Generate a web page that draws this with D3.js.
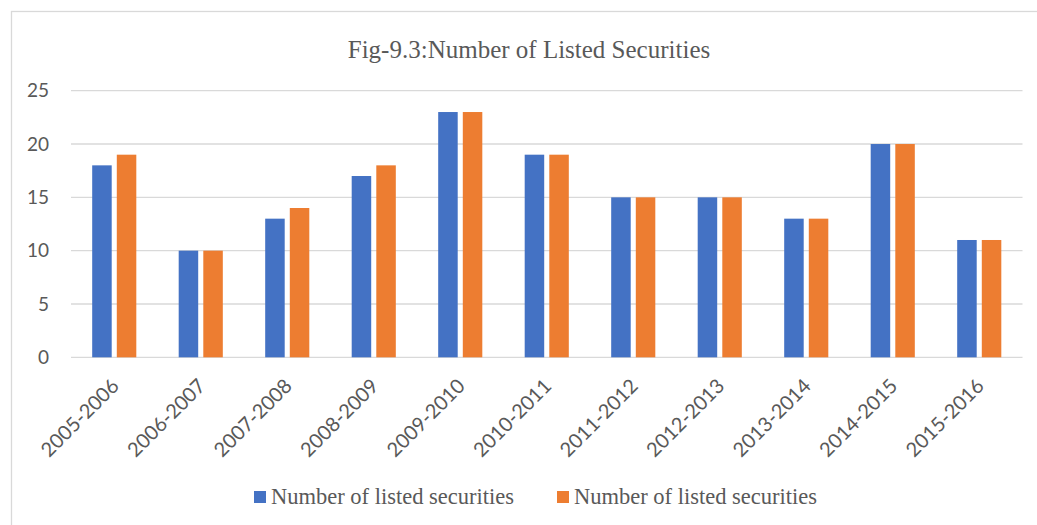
<!DOCTYPE html>
<html>
<head>
<meta charset="utf-8">
<script src="https://cdn.jsdelivr.net/npm/d3@7"></script>
<style>
html,body{margin:0;padding:0;background:#fff;overflow:hidden;}
svg{display:block;}
</style>
</head>
<body>
<svg id="chart" width="1037" height="525"></svg>
<script>
const categories = ["2005-2006","2006-2007","2007-2008","2008-2009","2009-2010","2010-2011","2011-2012","2012-2013","2013-2014","2014-2015","2015-2016"];
const series1 = [18,10,13,17,23,19,15,15,13,20,11];
const series2 = [19,10,14,18,23,19,15,15,13,20,11];
const seriesNames = ["Number of listed securities","Number of listed securities"];
const seriesColors = ["#4472C4","#ED7D31"];
const yTicks = [0,5,10,15,20,25];
const title = "Fig-9.3:Number of Listed Securities";

const svg = d3.select("#chart");
const plot = {left:71, right:1022.5, top:90.7, bottom:357.3};

// frame
svg.append("rect").attr("x",11.5).attr("y",11.5).attr("width",1040).attr("height",540)
  .attr("fill","#fff").attr("stroke","#d9d9d9").attr("stroke-width",1.3);

const x0 = d3.scaleBand().domain(categories).range([plot.left, plot.right]).paddingInner(0.49).paddingOuter(0.245);
const x1 = d3.scaleBand().domain([0,1]).range([0, x0.bandwidth()]).paddingInner(0.207);
const y = d3.scaleLinear().domain([0,25]).range([plot.bottom, plot.top]);

// gridlines
svg.append("g").selectAll("line").data(yTicks).join("line")
  .attr("x1",plot.left).attr("x2",plot.right)
  .attr("y1",d=>y(d)).attr("y2",d=>y(d))
  .attr("stroke","#d9d9d9").attr("stroke-width",1.3);

// y labels
svg.append("g").selectAll("text").data(yTicks).join("text")
  .attr("x",49).attr("y",d=>y(d)).attr("dy","0.35em")
  .attr("text-anchor","end")
  .attr("font-family","Lato, 'Liberation Sans', sans-serif").attr("font-size",19)
  .attr("fill","#595959").text(d=>d);

// bars
const data = [series1, series2];
const gCat = svg.append("g").selectAll("g").data(categories).join("g")
  .attr("transform",d=>`translate(${x0(d)},0)`);
gCat.selectAll("rect").data((d,i)=>data.map((s,k)=>({k, v:s[i]}))).join("rect")
  .attr("x",d=>x1(d.k)).attr("width",x1.bandwidth())
  .attr("y",d=>y(d.v)).attr("height",d=>y(0)-y(d.v))
  .attr("fill",d=>seriesColors[d.k]);

// x labels
svg.append("g").selectAll("text").data(categories).join("text")
  .attr("transform",d=>`translate(${x0(d)+x0.bandwidth()/2+6},${plot.bottom+30}) rotate(-45)`)
  .attr("text-anchor","end")
  .attr("font-family","Lato, 'Liberation Sans', sans-serif").attr("font-size",20)
  .attr("fill","#595959").text(d=>d);

// title
svg.append("text").attr("x",529).attr("y",58).attr("text-anchor","middle")
  .attr("font-family","'Liberation Serif', 'Times New Roman', serif").attr("font-size",25)
  .attr("fill","#595959").text(title);

// legend
const legendX = [254, 557];
const lg = svg.append("g").selectAll("g").data(seriesNames).join("g")
  .attr("transform",(d,i)=>`translate(${legendX[i]},491)`);
lg.append("rect").attr("width",12).attr("height",12).attr("fill",(d,i)=>seriesColors[i]);
lg.append("text").attr("x",17).attr("y",13)
  .attr("font-family","'Liberation Serif', 'Times New Roman', serif").attr("font-size",22.5)
  .attr("fill","#595959").text(d=>d);
</script>
</body>
</html>
